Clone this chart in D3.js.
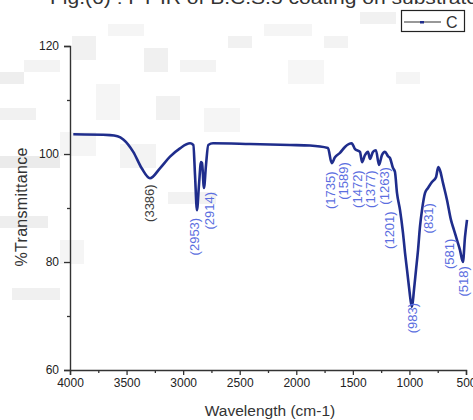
<!DOCTYPE html>
<html><head><meta charset="utf-8">
<script src="https://cdn.jsdelivr.net/npm/d3@7"></script>
<style>body{margin:0;background:#fff;overflow:hidden}svg{display:block}text{font-family:"Liberation Sans",Arial,sans-serif}</style>
</head><body>
<script>
// Spectrum (wavenumber cm-1, %T)
const waveNumbers = [3971,3646,3580,3529,3441,3366,3293,3205,3116,3028,2939,2910,2895,2878,2860,2842,2833,2816,2798,2778,2736,2409,2056,1879,1720,1687,1658,1614,1570,1510,1481,1437,1419,1393,1366,1349,1322,1296,1269,1243,1216,1190,1172,1145,1128,1110,1083,1057,1039,1021,1004,986,977,960,942,924,907,889,862,836,801,765,745,730,703,668,633,606,580,553,527,509,491];
const transmittance = [103.65,103.5,103.3,102.7,100.4,97.35,95.5,97.35,99.5,101.05,101.98,101.67,96.1,89.6,94.3,98.5,98.3,93.7,97.96,101.67,101.98,101.85,101.67,101.57,101.1,98.3,99.4,100.2,101.3,101.98,100.9,100.4,98.5,99.8,100.4,99.1,100.4,100.7,97.96,99.8,100.4,99.6,99.26,97.4,96.7,92.8,89.6,85.4,81.7,78.5,75.4,72.4,71.7,74.8,78.5,82.2,86.5,89.6,92.8,93.7,94.8,95.7,97.6,97.0,94.6,91.5,87.8,85.9,84.1,82.2,80.0,84.6,87.8];

// Peak annotations
const peakLabels = ["(3386)","(2953)","(2914)","(1735)","(1589)","(1472)","(1377)","(1263)","(1201)","(983)","(831)","(581)","(518)"];
const peakLabelWave = [3293,2904,2771,1702,1583,1455,1344,1216,1172,977,832,642,522];
const peakLabelT = [90.9,84.7,89.5,93.3,95.0,93.5,93.5,94.1,85.9,69.6,88.1,81.5,76.4];
const peakLabelDark = [true,false,false,false,false,false,false,false,false,false,false,false,false];

const xTicks = [4000,3500,3000,2500,2000,1500,1000,500];
const xMinorTicks = [3750,3250,2750,2250,1750,1250,750];
const yTicks = [60,80,100,120];
const yMinorTicks = [70,90,110];
const seriesName = "C";
const titleText = "Fig.(6) : FT-IR of B.C.S.5 coating on substrate";

// faint pixelated watermark blocks: [col, row, colspan, rowspan, grey level] on a 12px grid
const watermarkBlocks = [
  [0,6,2,1,238],[2,5,3,1,243],[6,3,2,2,241],[9,2,3,1,245],[12,4,2,2,240],[15,5,3,1,243],
  [19,3,2,1,241],[22,2,4,1,245],[27,3,2,1,243],[30,1,3,1,241],[0,13,5,1,235],[0,18,4,1,238],
  [5,11,3,2,245],[10,12,3,2,243],[14,16,4,1,242],[8,7,2,3,245],[17,9,3,2,245],[1,24,4,1,240],
  [0,9,3,1,241],[24,5,3,2,246],[33,6,2,1,245],[5,20,2,2,245],[13,8,2,2,241]
];

const W = 473, H = 420;
const svg = d3.select("body").append("svg").attr("width", W).attr("height", H);

svg.append("g").selectAll("rect").data(watermarkBlocks).join("rect")
  .attr("x", d => d[0] * 12).attr("y", d => d[1] * 12)
  .attr("width", d => d[2] * 12).attr("height", d => d[3] * 12)
  .attr("fill", d => `rgb(${d[4]},${d[4]},${d[4]})`);

const x = d3.scaleLinear().domain([4000, 500]).range([70, 466]);
const y = d3.scaleLinear().domain([60, 120]).range([370, 46]);

// Title (cut at top, as in the source)
svg.append("text").attr("x", 50).attr("y", 4).attr("font-size", 18).attr("fill", "#333")
  .attr("textLength", 428).attr("lengthAdjust", "spacingAndGlyphs").text(titleText);

// Axes
const axisColor = "#333";
svg.append("g").attr("transform", "translate(0,370)")
  .call(d3.axisBottom(x).tickValues(xTicks).tickSize(5).tickPadding(3).tickFormat(d3.format("d")));
svg.append("g").attr("transform", "translate(0,370)")
  .call(d3.axisBottom(x).tickValues(xMinorTicks).tickSize(3).tickFormat(""))
  .select(".domain").remove();
svg.append("g").attr("transform", "translate(70,0)")
  .call(d3.axisLeft(y).tickValues(yTicks).tickSize(6).tickPadding(5).tickFormat(d3.format("d")));
svg.append("g").attr("transform", "translate(70,0)")
  .call(d3.axisLeft(y).tickValues(yMinorTicks).tickSize(3).tickFormat(""))
  .select(".domain").remove();
svg.selectAll(".domain").attr("stroke", axisColor).attr("stroke-width", 1.4);
svg.selectAll(".tick line").attr("stroke", axisColor).attr("stroke-width", 1.3);
svg.selectAll(".tick text").attr("font-size", 12).attr("fill", "#222")
  .attr("font-family", "Liberation Sans, Arial, sans-serif");

// Axis titles
svg.append("text").attr("x", 270).attr("y", 416).attr("text-anchor", "middle")
  .attr("font-size", 15.5).attr("fill", "#333").text("Wavelength (cm-1)");
svg.append("text").attr("transform", "translate(27,207) rotate(-90)").attr("text-anchor", "middle")
  .attr("font-size", 16).attr("fill", "#333").attr("textLength", 119).attr("lengthAdjust", "spacing")
  .text("%Transmittance");

// Spectrum line
const pts = waveNumbers.map((w, i) => [w, transmittance[i]]);
svg.append("path").datum(pts)
  .attr("fill", "none").attr("stroke", "#1f2d8c").attr("stroke-width", 2.6)
  .attr("stroke-linejoin", "round")
  .attr("d", d3.line().curve(d3.curveMonotoneX).x(d => x(d[0])).y(d => y(d[1])));

// Peak labels
svg.append("g").selectAll("text").data(peakLabels).join("text")
  .attr("transform", (d, i) => `translate(${x(peakLabelWave[i])},${y(peakLabelT[i])}) rotate(-90)`)
  .attr("text-anchor", "middle").attr("dominant-baseline", "central")
  .attr("font-size", 13)
  .attr("fill", (d, i) => peakLabelDark[i] ? "#3c3c3c" : "#5b6ee0")
  .text(d => d);

// Legend
const lg = svg.append("g");
lg.append("rect").attr("x", 401.5).attr("y", 10.5).attr("width", 63).attr("height", 21)
  .attr("fill", "#fff").attr("stroke", "#222").attr("stroke-width", 1.2);
lg.append("line").attr("x1", 404).attr("x2", 441).attr("y1", 22).attr("y2", 22)
  .attr("stroke", "#333").attr("stroke-width", 1.2);
lg.append("rect").attr("x", 420).attr("y", 21).attr("width", 4).attr("height", 2.5).attr("fill", "#1f2d8c");
lg.append("text").attr("x", 446).attr("y", 28).attr("font-size", 16).attr("fill", "#333").text(seriesName);
</script>
</body></html>
